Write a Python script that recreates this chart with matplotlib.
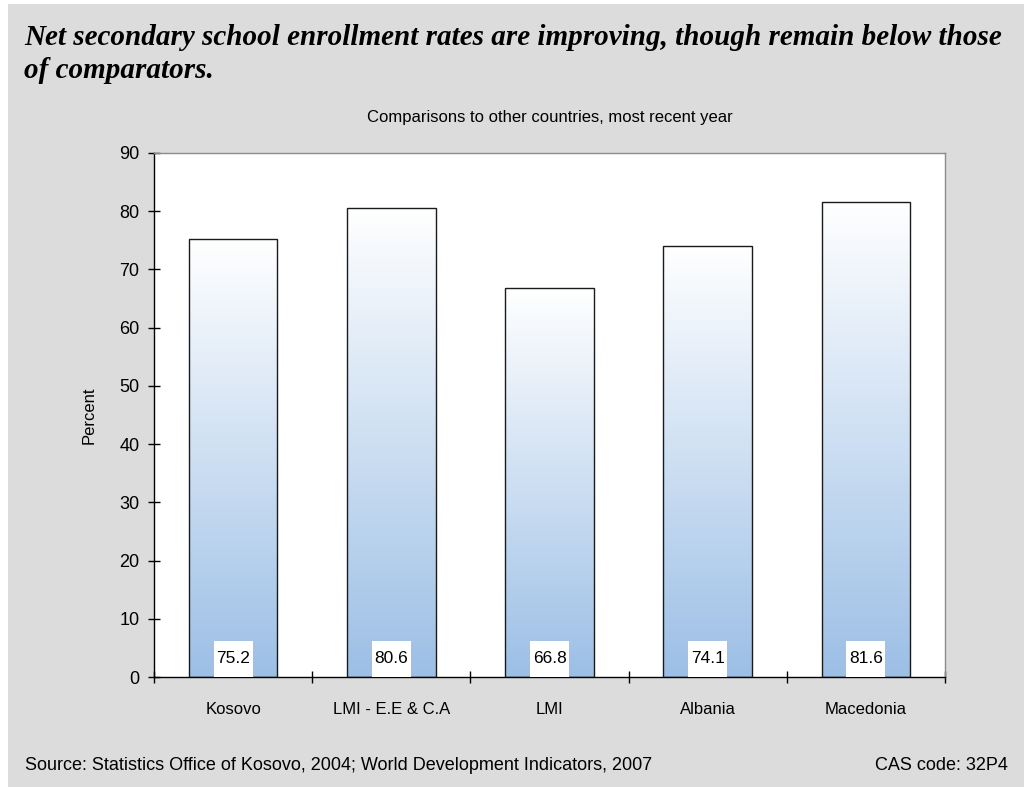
import numpy as np
import matplotlib.pyplot as plt
from matplotlib.colors import LinearSegmentedColormap
from matplotlib.patches import Rectangle

categories = ["Kosovo", "LMI - E.E & C.A", "LMI", "Albania", "Macedonia"]
values = [75.2, 80.6, 66.8, 74.1, 81.6]
yticks = [0, 10, 20, 30, 40, 50, 60, 70, 80, 90]

bg = "#dcdcdc"
sans = "Liberation Sans"
fig = plt.figure(figsize=(10.24, 7.87), dpi=100)
fig.patch.set_facecolor("white")
# grey panel behind everything
fig.patches.append(Rectangle((8 / 1024, 0), 1 - 8 / 1024, 1 - 4 / 787,
                             transform=fig.transFigure, facecolor=bg,
                             edgecolor="none", zorder=-5))

fig.text(24 / 1024, 1 - 54 / 787,
         "Net secondary school enrollment rates are improving, though remain below those\nof comparators.",
         family="Liberation Serif", style="italic", weight="bold", fontsize=21,
         va="center", ha="left", linespacing=1.3)

ax = fig.add_axes([154 / 1024, 1 - 677 / 787, (945 - 154) / 1024, (677 - 153) / 787])
ax.set_facecolor("white")

ax.set_title("Comparisons to other countries, most recent year",
             family=sans, fontsize=12, pad=22)

# white-to-blue gradient bars
cmap = LinearSegmentedColormap.from_list("barfade", ["#9cbfe6", "#ffffff"])
grad = np.linspace(0, 1, 256).reshape(-1, 1)
width = 0.56
box_w, box_h = 0.247, 6.2
for i, v in enumerate(values):
    x0, x1 = i - width / 2, i + width / 2
    ax.imshow(grad, cmap=cmap, origin="lower", aspect="auto",
              extent=(x0, x1, 0, v), zorder=2, interpolation="bicubic")
    ax.add_patch(Rectangle((x0, 0), width, v, facecolor="none",
                           edgecolor="#1a1a1a", linewidth=1.0, zorder=3))
    # white value box sitting on the axis
    ax.add_patch(Rectangle((i - box_w / 2, 0), box_w, box_h, facecolor="white",
                           edgecolor="none", zorder=4))
    ax.text(i, 3.1, f"{v:.1f}", ha="center", va="center",
            family=sans, fontsize=12.5, zorder=5)
ax.set_xlim(-0.5, len(categories) - 0.5)
ax.set_ylim(0, 90)

ax.set_yticks(yticks)
ax.set_yticklabels([str(t) for t in yticks], family=sans, fontsize=13)
ax.set_xticks(np.arange(-0.5, len(categories), 1.0))
ax.set_xticklabels([])
ax.set_xticks(np.arange(len(categories)), minor=True)
ax.set_xticklabels(categories, minor=True, family=sans, fontsize=12)
ax.tick_params(axis="x", which="minor", length=0, pad=18)
ax.tick_params(axis="x", which="major", direction="inout", length=9, width=1)
ax.tick_params(axis="y", direction="inout", length=9, width=1, pad=6)

ax.set_ylabel("Percent", family=sans, fontsize=12, labelpad=16)

for s in ["left", "bottom"]:
    ax.spines[s].set_color("black")
    ax.spines[s].set_linewidth(1.0)
for s in ["top", "right"]:
    ax.spines[s].set_color("#8c8c8c")
    ax.spines[s].set_linewidth(1.0)

fig.text(25 / 1024, 1 - 765 / 787,
         "Source: Statistics Office of Kosovo, 2004; World Development Indicators, 2007",
         family=sans, fontsize=13, va="center", ha="left")
fig.text(1008 / 1024, 1 - 765 / 787, "CAS code: 32P4",
         family=sans, fontsize=13, va="center", ha="right")

fig.savefig("out.png", dpi=100, facecolor=fig.get_facecolor())
